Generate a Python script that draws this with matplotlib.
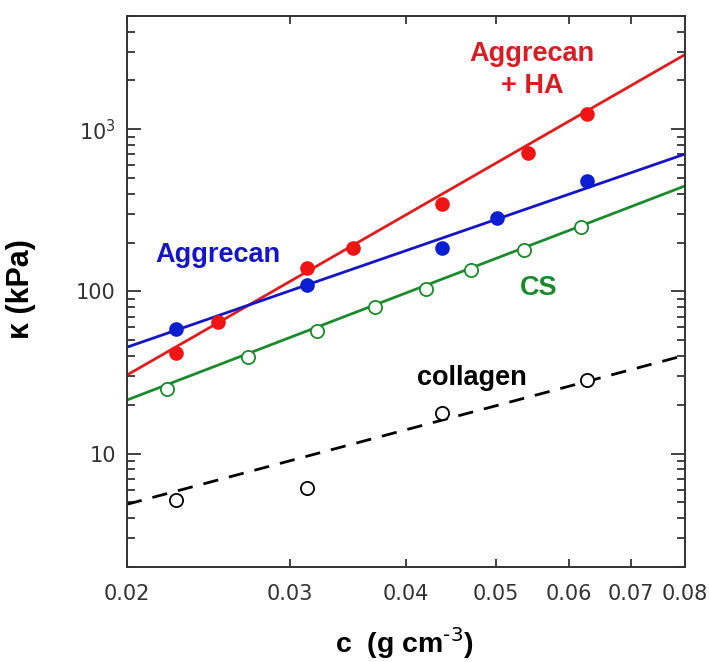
import numpy as np
import matplotlib.pyplot as plt
from matplotlib.ticker import FixedLocator, FixedFormatter, LogLocator, NullFormatter

# concentration (g/cm^3) and osmotic modulus kappa (kPa)
c_agg_ha = [0.0226, 0.0251, 0.0313, 0.0351, 0.0438, 0.0542, 0.0627]
k_agg_ha = [41.7, 64.6, 140, 186, 347, 713, 1236]

c_agg = [0.0226, 0.0313, 0.0438, 0.0501, 0.0627]
k_agg = [58.5, 110, 186, 284, 480]

c_cs = [0.0221, 0.0270, 0.0321, 0.0370, 0.0421, 0.0470, 0.0536, 0.0618]
k_cs = [25.1, 39.4, 56.9, 79.8, 104, 136, 179, 250]

c_col = [0.0226, 0.0313, 0.0438, 0.0627]
k_col = [5.15, 6.18, 17.9, 28.5]

# power-law fits, value at c = 0.02 and c = 0.08
c_fit = [0.02, 0.08]
fit_agg_ha = [30.5, 2884]
fit_agg = [45.3, 703]
fit_cs = [21.4, 447]
fit_col = [4.87, 40.4]

xticks = [0.02, 0.03, 0.04, 0.05, 0.06, 0.07, 0.08]
xticklabels = ['0.02', '0.03', '0.04', '0.05', '0.06', '0.07', '0.08']
yticks = [10, 100, 1000]
yticklabels = ['10', '100', r'$10^3$']

red = '#e01c1c'
blue = '#1414c8'
green = '#1c8a2c'

plt.rcParams['font.family'] = ['Liberation Sans', 'DejaVu Sans']

fig = plt.figure(figsize=(7.09, 6.62), dpi=100)
ax = fig.add_axes([0.179, 0.1435, 0.787, 0.8325])
ax.set_xscale('log')
ax.set_yscale('log')

ax.plot(c_fit, fit_agg_ha, color=red, lw=2.0)
ax.plot(c_fit, fit_agg, color=blue, lw=2.0)
ax.plot(c_fit, fit_cs, color=green, lw=2.0)
ax.plot(c_fit, fit_col, color='black', lw=2.0, ls=(0, (5.5, 4)))

ax.plot(c_agg_ha, k_agg_ha, 'o', color='#f01414', ms=9.5, ls='none')
ax.plot(c_agg, k_agg, 'o', color='#0a1ed2', ms=9.5, ls='none')
ax.plot(c_cs, k_cs, 'o', mfc='white', mec=green, mew=1.3, ms=9.5, ls='none')
ax.plot(c_col, k_col, 'o', mfc='white', mec='black', mew=1.3, ms=9.5, ls='none')

ax.set_xlim(0.02, 0.08)
ax.set_ylim(2, 5000)

ax.xaxis.set_major_locator(FixedLocator(xticks))
ax.xaxis.set_major_formatter(FixedFormatter(xticklabels))
ax.xaxis.set_minor_locator(FixedLocator([]))
ax.yaxis.set_major_locator(FixedLocator(yticks))
ax.yaxis.set_major_formatter(FixedFormatter(yticklabels))
ax.yaxis.set_minor_locator(LogLocator(base=10, subs=np.arange(2, 10)))
ax.yaxis.set_minor_formatter(NullFormatter())

ax.tick_params(which='both', direction='in', top=True, right=True,
               width=1.2, color='#222222')
ax.tick_params(axis='x', which='major', length=6, pad=12)
ax.tick_params(axis='y', which='major', length=10, pad=8)
ax.tick_params(axis='y', which='minor', length=5.5)
for lab in ax.get_xticklabels() + ax.get_yticklabels():
    lab.set_fontfamily('DejaVu Sans')
    lab.set_fontsize(15)
    lab.set_color('#333333')

for sp in ax.spines.values():
    sp.set_linewidth(1.4)
    sp.set_color('#333333')

ax.set_xlabel(r'c  (g cm$^{\text{-3}}$)', fontsize=20.5, fontweight='bold')
ax.xaxis.set_label_coords(0.498, -0.105)
ax.set_ylabel('κ (kPa)', fontsize=22, fontweight='bold')
ax.yaxis.set_label_coords(-0.163, 0.505)

ax.text(0.726, 0.902, 'Aggrecan\n+ HA', transform=ax.transAxes, color='#d81e24',
        fontsize=19.5, fontweight='bold', ha='center', va='center', linespacing=1.3)
ax.text(0.163, 0.566, 'Aggrecan', transform=ax.transAxes, color=blue,
        fontsize=19.5, fontweight='bold', ha='center', va='center')
ax.text(0.737, 0.506, 'CS', transform=ax.transAxes, color=green,
        fontsize=19.5, fontweight='bold', ha='center', va='center')
ax.text(0.618, 0.343, 'collagen', transform=ax.transAxes, color='black',
        fontsize=19.5, fontweight='bold', ha='center', va='center')

fig.savefig('out.png', dpi=100)
